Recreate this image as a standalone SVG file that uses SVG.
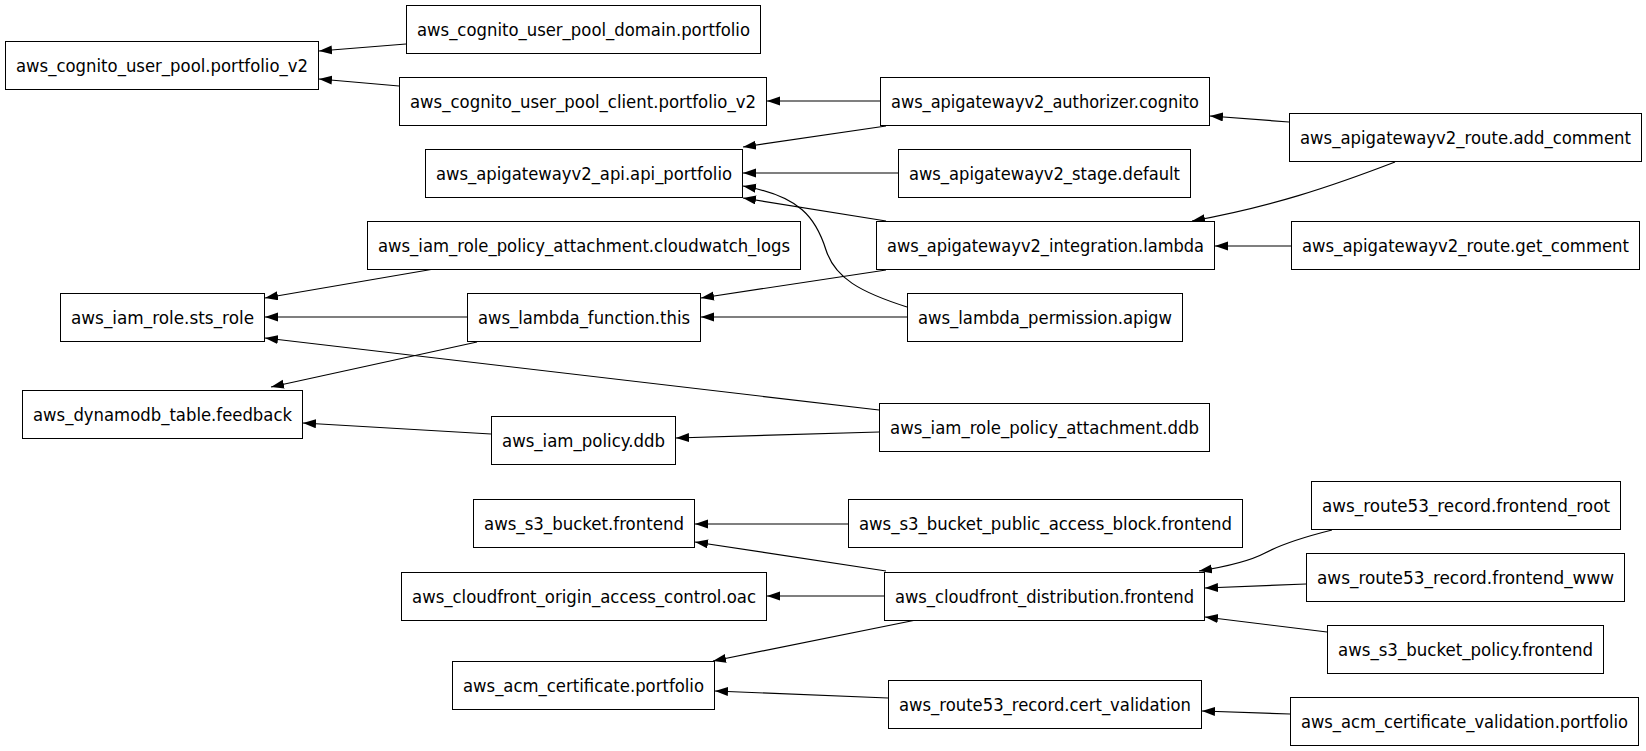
<svg xmlns="http://www.w3.org/2000/svg" width="1646" height="751" viewBox="0 0 1646 751">
<style>
.n rect{fill:#fff;stroke:#000;stroke-width:1}
.n text{font-family:"DejaVu Sans",sans-serif;font-size:16.8px;fill:#000;text-anchor:middle}
.e path{fill:none;stroke:#000;stroke-width:1.2;marker-end:url(#ah)}
</style>
<defs>
<marker id="ah" markerUnits="userSpaceOnUse" markerWidth="14" markerHeight="10" refX="13" refY="4.5" orient="auto">
<path d="M0,0 L13,4.5 L0,9 z" fill="#000"/>
</marker>
</defs>
<rect width="1646" height="751" fill="#fff"/>
<g id="edges" class="e">
<path d="M406,44 L319,51"/>
<path d="M399,86 L319,79"/>
<path d="M880,101 L767,101"/>
<path d="M886,126 L743,147"/>
<path d="M898,173 L743,173"/>
<path d="M886,221 L743,198"/>
<path d="M907,307 C860,292 835,278 826,250 C816,218 800,196 743,186"/>
<path d="M1289,122 L1210,116"/>
<path d="M1395,162 C1330,187 1270,207 1192,221"/>
<path d="M1291,246 L1215,246"/>
<path d="M886,270 L701,298"/>
<path d="M907,317 L701,317"/>
<path d="M434,269 L265,298"/>
<path d="M467,317 L265,317"/>
<path d="M477,342 L271,387"/>
<path d="M879,410 L265,338"/>
<path d="M879,432 L676,438"/>
<path d="M491,434 L303,423"/>
<path d="M848,524 L695,524"/>
<path d="M886,571 L695,542"/>
<path d="M884,596 L767,596"/>
<path d="M916,620 L713,661"/>
<path d="M888,698 L715,691"/>
<path d="M1332,530 C1300,538 1280,545 1265,553 C1250,561 1230,566 1199,571"/>
<path d="M1306,584 L1205,588"/>
<path d="M1327,632 L1205,617"/>
<path d="M1290,714 L1202,711"/>
</g>
<g id="n1" class="n"><rect x="5.5" y="41.5" width="313" height="48"/><text x="162" y="71.5" textLength="292" lengthAdjust="spacingAndGlyphs">aws_cognito_user_pool.portfolio_v2</text></g>
<g id="n2" class="n"><rect x="406.5" y="5.5" width="354" height="48"/><text x="583.5" y="35.5" textLength="333" lengthAdjust="spacingAndGlyphs">aws_cognito_user_pool_domain.portfolio</text></g>
<g id="n3" class="n"><rect x="399.5" y="77.5" width="367" height="48"/><text x="583" y="107.5" textLength="346" lengthAdjust="spacingAndGlyphs">aws_cognito_user_pool_client.portfolio_v2</text></g>
<g id="n4" class="n"><rect x="425.5" y="149.5" width="317" height="48"/><text x="584" y="179.5" textLength="296" lengthAdjust="spacingAndGlyphs">aws_apigatewayv2_api.api_portfolio</text></g>
<g id="n5" class="n"><rect x="367.5" y="221.5" width="433" height="48"/><text x="584" y="251.5" textLength="412" lengthAdjust="spacingAndGlyphs">aws_iam_role_policy_attachment.cloudwatch_logs</text></g>
<g id="n6" class="n"><rect x="880.5" y="77.5" width="329" height="48"/><text x="1045" y="107.5" textLength="308" lengthAdjust="spacingAndGlyphs">aws_apigatewayv2_authorizer.cognito</text></g>
<g id="n7" class="n"><rect x="898.5" y="149.5" width="292" height="48"/><text x="1044.5" y="179.5" textLength="271" lengthAdjust="spacingAndGlyphs">aws_apigatewayv2_stage.default</text></g>
<g id="n8" class="n"><rect x="876.5" y="221.5" width="338" height="48"/><text x="1045.5" y="251.5" textLength="317" lengthAdjust="spacingAndGlyphs">aws_apigatewayv2_integration.lambda</text></g>
<g id="n9" class="n"><rect x="1289.5" y="113.5" width="352" height="48"/><text x="1465.5" y="143.5" textLength="331" lengthAdjust="spacingAndGlyphs">aws_apigatewayv2_route.add_comment</text></g>
<g id="n10" class="n"><rect x="1291.5" y="221.5" width="348" height="48"/><text x="1465.5" y="251.5" textLength="327" lengthAdjust="spacingAndGlyphs">aws_apigatewayv2_route.get_comment</text></g>
<g id="n11" class="n"><rect x="60.5" y="293.5" width="204" height="48"/><text x="162.5" y="323.5" textLength="183" lengthAdjust="spacingAndGlyphs">aws_iam_role.sts_role</text></g>
<g id="n12" class="n"><rect x="467.5" y="293.5" width="233" height="48"/><text x="584" y="323.5" textLength="212" lengthAdjust="spacingAndGlyphs">aws_lambda_function.this</text></g>
<g id="n13" class="n"><rect x="907.5" y="293.5" width="275" height="48"/><text x="1045" y="323.5" textLength="254" lengthAdjust="spacingAndGlyphs">aws_lambda_permission.apigw</text></g>
<g id="n14" class="n"><rect x="22.5" y="390.5" width="280" height="48"/><text x="162.5" y="420.5" textLength="259" lengthAdjust="spacingAndGlyphs">aws_dynamodb_table.feedback</text></g>
<g id="n15" class="n"><rect x="491.5" y="416.5" width="184" height="48"/><text x="583.5" y="446.5" textLength="163" lengthAdjust="spacingAndGlyphs">aws_iam_policy.ddb</text></g>
<g id="n16" class="n"><rect x="879.5" y="403.5" width="330" height="48"/><text x="1044.5" y="433.5" textLength="309" lengthAdjust="spacingAndGlyphs">aws_iam_role_policy_attachment.ddb</text></g>
<g id="n17" class="n"><rect x="473.5" y="499.5" width="221" height="48"/><text x="584" y="529.5" textLength="200" lengthAdjust="spacingAndGlyphs">aws_s3_bucket.frontend</text></g>
<g id="n18" class="n"><rect x="848.5" y="499.5" width="394" height="48"/><text x="1045.5" y="529.5" textLength="373" lengthAdjust="spacingAndGlyphs">aws_s3_bucket_public_access_block.frontend</text></g>
<g id="n19" class="n"><rect x="401.5" y="572.5" width="365" height="48"/><text x="584" y="602.5" textLength="344" lengthAdjust="spacingAndGlyphs">aws_cloudfront_origin_access_control.oac</text></g>
<g id="n20" class="n"><rect x="884.5" y="572.5" width="320" height="48"/><text x="1044.5" y="602.5" textLength="299" lengthAdjust="spacingAndGlyphs">aws_cloudfront_distribution.frontend</text></g>
<g id="n21" class="n"><rect x="452.5" y="661.5" width="262" height="48"/><text x="583.5" y="691.5" textLength="241" lengthAdjust="spacingAndGlyphs">aws_acm_certificate.portfolio</text></g>
<g id="n22" class="n"><rect x="1311.5" y="481.5" width="309" height="48"/><text x="1466" y="511.5" textLength="288" lengthAdjust="spacingAndGlyphs">aws_route53_record.frontend_root</text></g>
<g id="n23" class="n"><rect x="1306.5" y="553.5" width="318" height="48"/><text x="1465.5" y="583.5" textLength="297" lengthAdjust="spacingAndGlyphs">aws_route53_record.frontend_www</text></g>
<g id="n24" class="n"><rect x="1327.5" y="625.5" width="276" height="48"/><text x="1465.5" y="655.5" textLength="255" lengthAdjust="spacingAndGlyphs">aws_s3_bucket_policy.frontend</text></g>
<g id="n25" class="n"><rect x="888.5" y="680.5" width="313" height="48"/><text x="1045" y="710.5" textLength="292" lengthAdjust="spacingAndGlyphs">aws_route53_record.cert_validation</text></g>
<g id="n26" class="n"><rect x="1290.5" y="697.5" width="348" height="48"/><text x="1464.5" y="727.5" textLength="327" lengthAdjust="spacingAndGlyphs">aws_acm_certificate_validation.portfolio</text></g>
</svg>
